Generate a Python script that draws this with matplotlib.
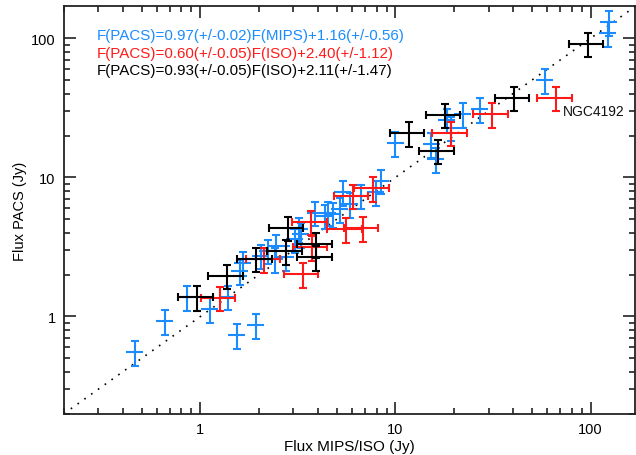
import matplotlib
matplotlib.use("Agg")
import matplotlib.pyplot as plt
import numpy as np
from matplotlib.ticker import LogLocator, FixedLocator, NullFormatter, FuncFormatter

plt.rcParams['font.family'] = ['Liberation Sans', 'DejaVu Sans']

# MIPS (blue) sample
mips_x = [0.46, 0.661, 1.546, 1.919, 1.115, 0.853, 1.379, 1.645, 1.588, 2.05, 2.22, 2.40,
          2.76, 3.22, 3.89, 4.33, 4.78, 5.37, 6.68, 7.97, 8.46, 5.17, 4.50, 5.82, 10.0,
          15.3, 16.1, 18.3, 19.3, 22.2, 27.0, 58.6, 124.0, 123.0, 3.04, 2.45, 3.29]
mips_y = [0.551, 0.921, 0.734, 0.866, 1.128, 1.37, 1.388, 2.44, 2.12, 2.73, 2.96, 2.58,
          2.66, 4.24, 5.59, 5.29, 5.44, 7.79, 7.36, 7.79, 9.44, 5.91, 5.59, 6.42, 17.6,
          17.3, 13.5, 25.9, 22.8, 28.5, 30.9, 50.0, 131.0, 109.0, 3.59, 3.22, 3.91]

# ISO (red) sample
iso_r_x = [1.254, 2.13, 3.35, 3.70, 3.72, 5.60, 6.81, 6.05, 7.68, 19.3, 31.3, 66.7]
iso_r_y = [1.365, 2.58, 2.01, 4.80, 3.15, 4.24, 4.31, 7.36, 8.36, 21.0, 28.5, 37.5]

# ISO (black) sample
iso_k_x = [0.964, 1.374, 1.934, 2.81, 2.76, 3.93, 3.93, 11.7, 17.9, 16.6, 40.3, 96.9]
iso_k_y = [1.37, 1.96, 2.61, 4.36, 2.95, 3.31, 2.66, 20.8, 28.1, 15.5, 37.5, 91.8]

# relative uncertainties
mips_xerr_frac = 0.10
iso_xerr_frac = 0.20
pacs_yerr_frac = 0.20

fit_texts = ["F(PACS)=0.97(+/-0.02)F(MIPS)+1.16(+/-0.56)",
             "F(PACS)=0.60(+/-0.05)F(ISO)+2.40(+/-1.12)",
             "F(PACS)=0.93(+/-0.05)F(ISO)+2.11(+/-1.47)"]
label_name = "NGC4192"

BLUE = "#1a8cff"
RED = "#ff1a1a"
BLACK = "#000000"

fig = plt.figure(figsize=(6.36, 4.56), dpi=100)
ax = fig.add_axes([0.1006, 0.0906, 0.8986, 0.8934])
ax.set_xscale("log")
ax.set_yscale("log")
lim = (0.2, 170)
ax.set_xlim(lim)
ax.set_ylim(lim)

ax.plot(lim, lim, linestyle=(0, (1, 4)), color="black", lw=1.2, zorder=1)

def draw(x, y, xf, col, xcap):
    x = np.array(x); y = np.array(y)
    ax.errorbar(x, y, yerr=pacs_yerr_frac * y, fmt="none", ecolor=col,
                elinewidth=1.5, capsize=3, capthick=1.5, zorder=2)
    ax.errorbar(x, y, xerr=xf * x, fmt="none", ecolor=col,
                elinewidth=1.5, capsize=xcap, capthick=1.5, zorder=2)

draw(mips_x, mips_y, mips_xerr_frac, BLUE, 0)
draw(iso_r_x, iso_r_y, iso_xerr_frac, RED, 3)
draw(iso_k_x, iso_k_y, iso_xerr_frac, BLACK, 3)

ax.text(iso_r_x[-1] * 1.08, iso_r_y[-1] * 0.9, label_name, fontsize=10,
        ha="left", va="top", color="#111111")

cols = [BLUE, RED, BLACK]
for i, (t, c) in enumerate(zip(fit_texts, cols)):
    ax.text(0.058, 0.929 - i * 0.043, t, transform=ax.transAxes, color=c,
            fontsize=10.9, ha="left", va="center")

for a in (ax.xaxis, ax.yaxis):
    a.set_major_locator(FixedLocator([1, 10, 100]))
    a.set_minor_locator(LogLocator(base=10, subs=np.arange(2, 10)))
    a.set_minor_formatter(NullFormatter())
    a.set_major_formatter(FuncFormatter(lambda v, p: "%d" % v))

ax.tick_params(which="both", direction="in", top=True, right=True, width=1.2,
               labelsize=10.5, color="#222222")
ax.tick_params(which="major", length=8.5, pad=6)
ax.tick_params(which="minor", length=4.5)
for s in ax.spines.values():
    s.set_linewidth(1.3)
    s.set_color("#222222")

ax.set_xlabel("Flux MIPS/ISO (Jy)", fontsize=11, labelpad=2)
ax.set_ylabel("Flux PACS (Jy)", fontsize=10.5, labelpad=3)

fig.savefig("out.png", dpi=100)
